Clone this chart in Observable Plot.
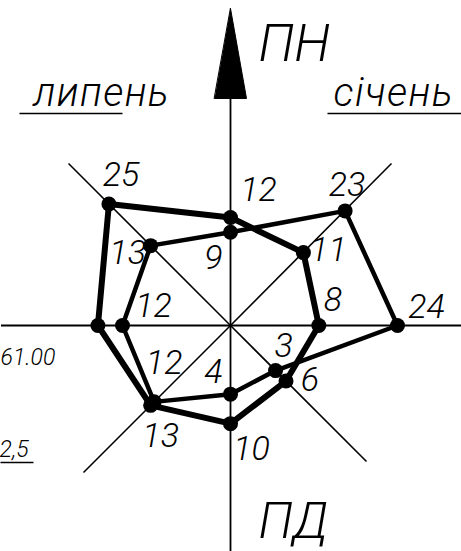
<!DOCTYPE html>
<html><head><meta charset="utf-8">
<script src="https://cdn.jsdelivr.net/npm/d3@7"></script>
<script src="https://cdn.jsdelivr.net/npm/@observablehq/plot@0.6"></script>
<style>html,body{margin:0;padding:0;background:#fff}svg{display:block}
g[font-size="40"] text{letter-spacing:1.4px}</style>
</head><body><div id="chart"></div>
<script>
// ---- data ----
const directions = ["ПН", "ПнСх", "Сх", "ПдСх", "ПД", "ПдЗх", "Зх", "ПнЗх"];
const angles = [0, 45, 90, 135, 180, 225, 270, 315];
const january = [9, 23, 24, 3, 4, 12, 12, 13];
const july = [12, 11, 8, 6, 10, 13, 17, 25];
const januaryLabels = ["9", "23", "24", "3", "4", "12", "12", "13"];
const julyLabels = ["12", "11", "8", "6", "10", "13", "", "25"];
const legendNames = ["липень", "січень"];
const sideNotes = ["61.00", "2,5"];

// ---- layout (label offsets in px, screen y down) ----
const janOffsets = [[-17, 26], [2, -26], [29, -18], [8, -24], [-17, -22], [10, -39], [31, -19], [-23, 7]];
const julOffsets = [[28, -27], [25, -2], [14, -25], [24, -1], [21, 25], [10, 31], [0, 0], [12, -29]];

const rScale = d3.scaleLinear().domain([0, 24]).range([49, 167]);
const rad = a => a * Math.PI / 180;

function build(values, labels, offsets, series) {
  return values.map((v, i) => {
    const r = rScale(v), a = rad(angles[i]);
    const x = r * Math.sin(a), y = r * Math.cos(a);
    return {series, dir: directions[i], value: v, label: labels[i], x, y,
            lx: x + offsets[i][0], ly: y - offsets[i][1]};
  });
}
const jan = build(january, januaryLabels, janOffsets, "січень");
const jul = build(july, julyLabels, julOffsets, "липень");

const diagonals = [
  {x1: 0, y1: 0, x2: 161, y2: 162},
  {x1: 0, y1: 0, x2: -162, y2: 162},
  {x1: 0, y1: 0, x2: -147, y2: -147},
  {x1: 0, y1: 0, x2: 136, y2: -136}
];
const arrow = [{x: 0, y: 317}, {x: 16, y: 227}, {x: -16, y: 227}];

const font = "Roboto, 'DejaVu Sans', sans-serif";
const txt = {fontFamily: font, fontStyle: "italic", fontWeight: 300, fill: "black"};

const chart = Plot.plot({
  width: 461, height: 551, margin: 0,
  x: {domain: [-230, 231], axis: null},
  y: {domain: [-226, 325], axis: null},
  marks: [
    Plot.ruleY([0], {x1: -229, x2: 231, stroke: "black", strokeWidth: 1.8}),
    Plot.ruleX([0], {y1: -226, y2: 228, stroke: "black", strokeWidth: 1.8}),
    Plot.link(diagonals, {x1: "x1", y1: "y1", x2: "x2", y2: "y2", stroke: "black", strokeWidth: 1.6}),
    Plot.line(arrow, {x: "x", y: "y", fill: "black", stroke: "black", strokeWidth: 1, curve: "linear-closed"}),
    Plot.line(jul, {x: "x", y: "y", stroke: "black", strokeWidth: 6, curve: "linear-closed", strokeLinejoin: "round"}),
    Plot.line(jan, {x: "x", y: "y", stroke: "black", strokeWidth: 4.5, curve: "linear-closed", strokeLinejoin: "round"}),
    Plot.dot(jul, {x: "x", y: "y", r: 7.5, fill: "black"}),
    Plot.dot(jan, {x: "x", y: "y", r: 7.5, fill: "black"}),
    Plot.text(jan, {x: "lx", y: "ly", text: "label", fontSize: 34, ...txt}),
    Plot.text(jul, {x: "lx", y: "ly", text: "label", fontSize: 34, ...txt}),
    // compass labels
    Plot.text([directions[0]], {x: 28, y: 281, text: d => d, textAnchor: "start", fontSize: 52, ...txt}),
    Plot.text([directions[4]], {x: 28, y: -196, text: d => d, textAnchor: "start", fontSize: 50, ...txt}),
    // legend
    Plot.text([legendNames[0]], {x: -197, y: 220, text: d => d, textAnchor: "start", lineAnchor: "bottom", fontSize: 40, ...txt}),
    Plot.text([legendNames[1]], {x: 103, y: 220, text: d => d, textAnchor: "start", lineAnchor: "bottom", fontSize: 40, ...txt}),
    Plot.link([{x1: -211, x2: -108, y: 212}, {x1: 97, x2: 231, y: 212}], {x1: "x1", x2: "x2", y1: "y", y2: "y", stroke: "black", strokeWidth: 1.6}),
    // side notes
    Plot.text([sideNotes[0]], {x: -230, y: -32, text: d => d, textAnchor: "start", fontSize: 23, ...txt}),
    Plot.text([sideNotes[1]], {x: -231, y: -124, text: d => d, textAnchor: "start", fontSize: 23, ...txt}),
    Plot.link([{x1: -230, x2: -197, y: -137}], {x1: "x1", x2: "x2", y1: "y", y2: "y", stroke: "black", strokeWidth: 1.4})
  ]
});
document.getElementById("chart").append(chart);
</script>
</body></html>
